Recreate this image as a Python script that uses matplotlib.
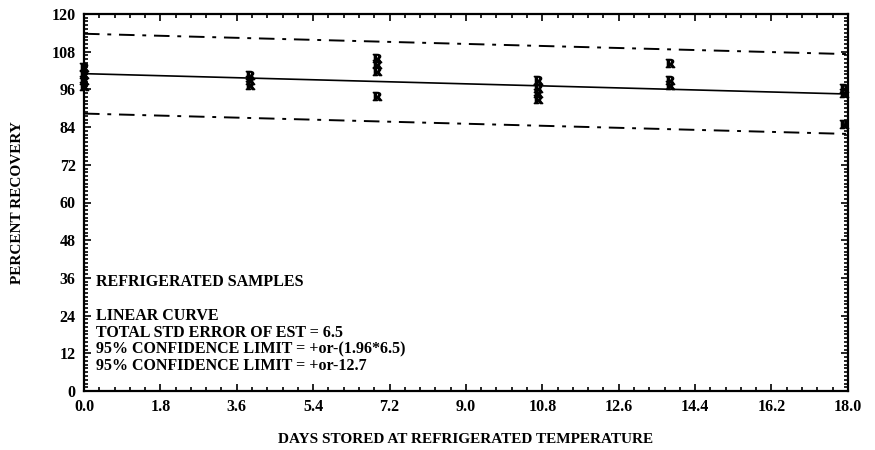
import numpy as np
import matplotlib
matplotlib.use("Agg")
import matplotlib.pyplot as plt
from matplotlib.ticker import MultipleLocator

# Observed recoveries (percent) by storage day
days = [0.0, 0.0, 0.0, 0.0,
        3.9, 3.9, 3.9,
        6.9, 6.9, 6.9, 6.9,
        10.7, 10.7, 10.7, 10.7,
        13.8, 13.8, 13.8,
        17.9, 17.9, 17.9]
recovery = [103.0, 101.0, 99.0, 97.0,
            100.5, 99.0, 97.5,
            106.0, 104.0, 102.0, 94.0,
            99.0, 96.5, 95.0, 93.0,
            104.5, 99.0, 97.5,
            96.5, 95.0, 85.0]

# Linear fit and 95% confidence band
intercept = 101.0
slope = -0.36
conf_limit = 12.7

x_ticks = [0.0, 1.8, 3.6, 5.4, 7.2, 9.0, 10.8, 12.6, 14.4, 16.2, 18.0]
y_ticks = [0, 12, 24, 36, 48, 60, 72, 84, 96, 108, 120]

serif = ["Liberation Serif", "DejaVu Serif"]
plt.rcParams["mathtext.fontset"] = "stix"

fig = plt.figure(figsize=(8.75, 4.5), dpi=100)
ax = fig.add_axes([0.096, 0.131, 0.873, 0.838])

xx = np.array([0.0, 18.0])
fit = intercept + slope * xx
ax.plot(xx, fit, color="black", lw=1.2)
ax.plot(xx, fit + conf_limit, color="black", lw=1.4, ls=(0, (8, 4, 2, 4)))
ax.plot(xx, fit - conf_limit, color="black", lw=1.4, ls=(0, (8, 4, 2, 4)))

# sample points drawn as "R" symbols
ax.plot(days, recovery, ls="none", marker=r"$\mathbf{R}$", markersize=6,
        color="black", clip_on=False)

ax.set_xlim(0, 18)
ax.set_ylim(0, 120)
ax.set_xticks(x_ticks)
ax.set_xticklabels([f"{v:.1f}" for v in x_ticks])
ax.set_yticks(y_ticks)
ax.set_yticklabels([str(v) for v in y_ticks])
ax.xaxis.set_minor_locator(MultipleLocator(0.36))
ax.yaxis.set_minor_locator(MultipleLocator(1.2))
ax.tick_params(which="both", direction="in", top=True, right=True,
               labelsize=11.5, width=1.2, pad=6)
ax.tick_params(which="major", length=5)
ax.tick_params(which="minor", length=3)
for lab in ax.get_xticklabels() + ax.get_yticklabels():
    lab.set_fontweight("bold")
    lab.set_family(serif)
for s in ax.spines.values():
    s.set_linewidth(1.6)

ax.set_xlabel("DAYS STORED AT REFRIGERATED TEMPERATURE", fontsize=11,
              fontweight="bold", family=serif, labelpad=13)
ax.set_ylabel("PERCENT RECOVERY", fontsize=11, fontweight="bold",
              family=serif, labelpad=20)

notes = ["REFRIGERATED SAMPLES", "",
         "LINEAR CURVE",
         "TOTAL STD ERROR OF EST = 6.5",
         "95% CONFIDENCE LIMIT = +or-(1.96*6.5)",
         "95% CONFIDENCE LIMIT = +or-12.7"]
y0 = 0.288
for i, t in enumerate(notes):
    if not t:
        continue
    ax.text(0.016, y0 - i * 0.0445, t, transform=ax.transAxes, fontsize=11.5,
            fontweight="bold", family=serif, va="center", ha="left")

fig.savefig("out.png", dpi=100)
